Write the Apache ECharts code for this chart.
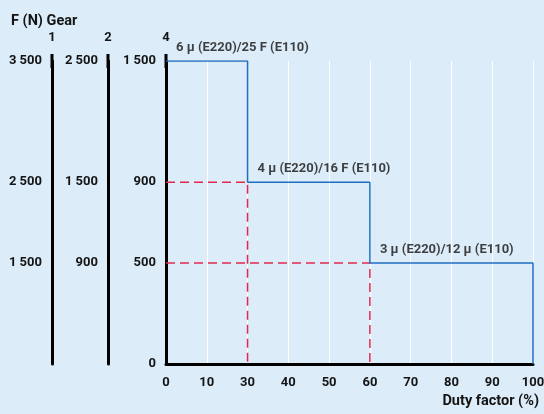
<!DOCTYPE html>
<html><head><meta charset="utf-8">
<script src="https://cdn.jsdelivr.net/npm/echarts@6/dist/echarts.min.js"></script>
<style>html,body{margin:0;padding:0;background:#dcecf8}#c{width:544px;height:414px}</style>
</head><body><div id="c"></div>
<script>
const xCats = ['0','10','30','40','50','60','70','80','90','100'];
const stepX = ['0','30','30','60','60','100','100'];
const stepY = [1500,1500,900,900,500,500,0];
const segX = ['0','30','60'];
const segY = [1500,900,500];
const segLabels = ['6 µ (E220)/25 F (E110)','4 µ (E220)/16 F (E110)','3 µ (E220)/12 µ (E110)'];
const guide1X = ['0','30','30'];
const guide1Y = [900,900,0];
const guide2X = ['0','60','60'];
const guide2Y = [500,500,0];
const yTicks = [0,500,900,1500];
const gear4Labels = ['0','500','900','1 500'];
const gear2Labels = ['','900','1 500','2 500'];
const gear1Labels = ['','1 500','2 500','3 500'];
const gearNames = ['4','2','1'];
const titleText = 'F (N) Gear';
const xName = 'Duty factor (%)';

const FONT = 'Roboto';
const FW = 'bold';
const FS = 13;
const TXT = '#141414';
const chart = echarts.init(document.getElementById('c'));
const zip = (xs, ys) => xs.map((x, i) => [x, ys[i]]);

function gearAxis(labels, name, offset) {
  return {
    type: 'value', min: 0, max: 1500, position: 'left', offset: offset,
    name: name, nameLocation: 'end', nameGap: 17,
    nameTextStyle: {fontFamily: FONT, fontWeight: FW, fontSize: FS, color: TXT},
    axisLine: {show: true, lineStyle: {color: '#000', width: 3}, symbol: ['none', 'rect'], symbolSize: [3, 14]},
    axisTick: {show: false},
    splitLine: {show: false},
    axisLabel: {
      customValues: yTicks, margin: 10,
      fontFamily: FONT, fontWeight: FW, fontSize: FS, color: TXT,
      formatter: v => labels[yTicks.indexOf(v)]
    }
  };
}

chart.setOption({
  backgroundColor: '#dcecf8',
  animation: false,
  title: {text: titleText, left: 6, top: 9, textStyle: {fontFamily: FONT, fontWeight: FW, fontSize: 14.5, color: TXT}},
  grid: {left: 166, right: 11, top: 61, bottom: 50, containLabel: false, outerBoundsMode: 'none'},
  xAxis: {
    type: 'category', data: xCats, boundaryGap: false,
    name: xName, nameLocation: 'end', nameGap: 6,
    nameTextStyle: {fontFamily: FONT, fontWeight: FW, fontSize: 14.5, color: TXT, align: 'right', verticalAlign: 'top', padding: [30, 0, 0, 0]},
    axisLine: {lineStyle: {color: '#000', width: 3}},
    axisTick: {show: false},
    axisLabel: {margin: 12, fontFamily: FONT, fontWeight: FW, fontSize: FS, color: TXT},
    splitLine: {show: true, lineStyle: {color: '#ffffff', width: 1}}
  },
  yAxis: [
    gearAxis(gear4Labels, gearNames[0], 0),
    gearAxis(gear2Labels, gearNames[1], 58),
    gearAxis(gear1Labels, gearNames[2], 114)
  ],
  series: [
    {type: 'line', data: zip(guide1X, guide1Y), symbol: 'none', silent: true,
     lineStyle: {color: '#e2284f', width: 1.5, type: [9, 5]}},
    {type: 'line', data: zip(guide2X, guide2Y), symbol: 'none', silent: true,
     lineStyle: {color: '#e2284f', width: 1.5, type: [9, 5]}},
    {type: 'line', data: zip(stepX, stepY), symbol: 'none',
     lineStyle: {color: '#1f6fc0', width: 1.5}},
    {type: 'scatter', data: zip(segX, segY).map((p, i) => ({value: p, name: segLabels[i]})),
     symbolSize: 0, itemStyle: {color: 'rgba(0,0,0,0)'},
     label: {show: true, formatter: p => p.name, position: [10, -13], align: 'left', verticalAlign: 'middle',
       fontFamily: FONT, fontWeight: FW, fontSize: FS, color: TXT}}
  ]
});
</script></body></html>
